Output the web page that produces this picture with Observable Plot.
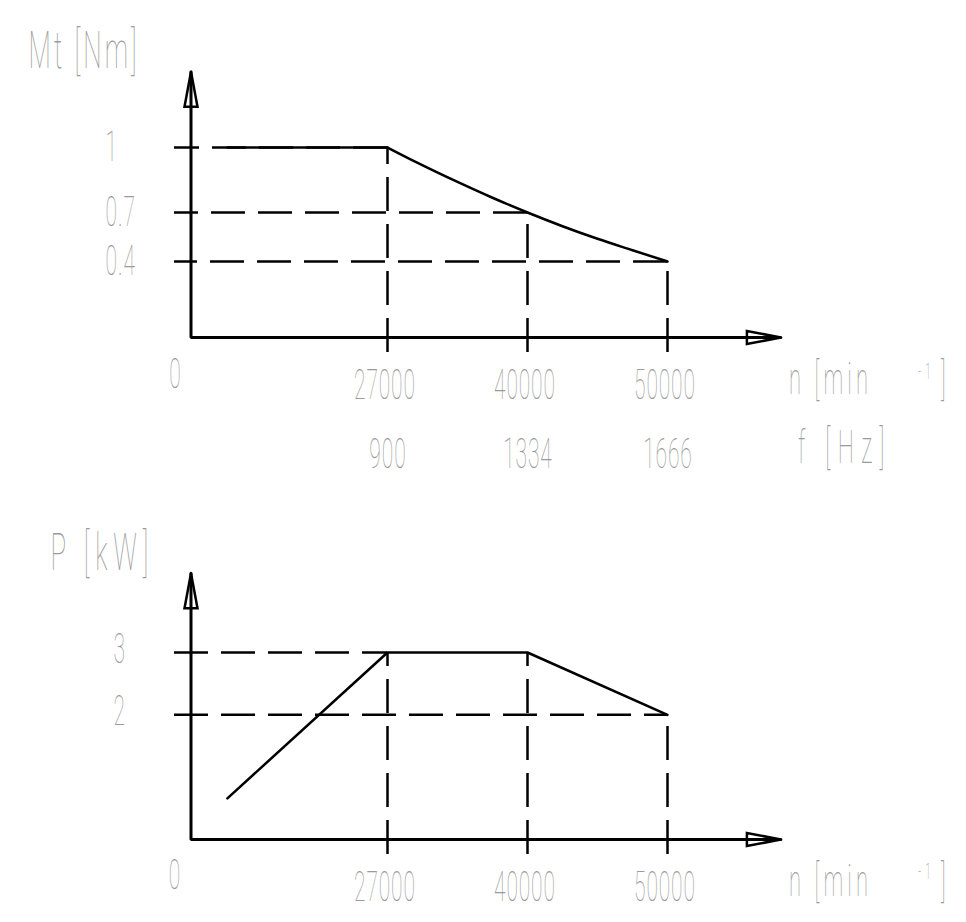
<!DOCTYPE html>
<html>
<head>
<meta charset="utf-8">
<script src="https://cdn.jsdelivr.net/npm/d3@7"></script>
<script src="https://cdn.jsdelivr.net/npm/@observablehq/plot@0.6"></script>
<style>
  html, body { margin: 0; padding: 0; background: #fff; }
  #chart svg { display: block; }
</style>
</head>
<body>
<div id="chart"></div>
<script>
// ---------------- data ----------------
const speedTicks = [27000, 40000, 50000];      // n [min^-1]
const freqTicks = [900, 1334, 1666];           // f [Hz]
const torqueTicks = [1, 0.7, 0.4];             // Mt [Nm]
const powerTicks = [3, 2];                     // P [kW]

// torque curve
const torqueFlatN = [5000, 27000];
const torqueFlatM = [1, 1];
const torqueCurveN = [27000, 29800, 33500, 36750, 40000, 42500, 45000, 47500, 50000];
const torqueCurveM = [1, 0.929, 0.841, 0.768, 0.7, 0.616, 0.539, 0.469, 0.4];

// power curve
const powerN = [5000, 27000, 40000, 50000];
const powerP = [0.66, 3, 3, 2];

// ---------------- layout / style ----------------
const W = 966, topH = 480, botH = 442;
const xDomain = [0, 27000, 40000, 50000];
const xRange = [190.5, 387, 527, 667];
const xAxisEnd = 58100, xTickExt = -2267;
const ink = "#000", txt = "#9a9a9a";
const dash = "34,13";
const font = {fontFamily: "Roboto, Lato, 'DejaVu Sans', sans-serif", fontWeight: 100, fill: txt};
const condenseX = 0.5;
// per-character advance (em) imitating the CAD stroke font
const advance = c => /[0-9]/.test(c) ? 0.29 : c === "." ? 0.12 : c === " " ? 0.40 : /[\[\]]/.test(c) ? 0.20
  : c === "i" ? 0.12 : c === "t" ? 0.20 : c === "-" ? 0.30 : 0.36;

const upArrow = {draw(c) { c.moveTo(0, 0); c.lineTo(-6.5, 35); c.lineTo(6.5, 35); c.closePath(); }};
const rightArrow = {draw(c) { c.moveTo(0, 0); c.lineTo(-34, -6.5); c.lineTo(-34, 6.5); c.closePath(); }};

const allTorqueN = torqueFlatN.concat(torqueCurveN.slice(1));
const allTorqueM = torqueFlatM.concat(torqueCurveM.slice(1));
const torqueAt = n => allTorqueM[allTorqueN.indexOf(n)];
const powerAt = n => powerP[powerN.indexOf(n)];

function axesMarks(yTop) {
  return [
    Plot.line([[0, yTop], [0, 0], [xAxisEnd, 0]], {x: d => d[0], y: d => d[1], stroke: ink, strokeWidth: 3, strokeLinejoin: "miter"}),
    Plot.dot([[0, yTop]], {x: d => d[0], y: d => d[1], symbol: upArrow, r: 5, fill: "none", stroke: ink, strokeWidth: 2.5}),
    Plot.dot([[xAxisEnd, 0]], {x: d => d[0], y: d => d[1], symbol: rightArrow, r: 5, fill: "none", stroke: ink, strokeWidth: 2.5})
  ];
}

function condense(svg) {
  svg.querySelectorAll("text").forEach(t => {
    const g = t.closest("[font-size]");
    const fs = g ? parseFloat(g.getAttribute("font-size")) : 10;
    const s = t.textContent;
    if (s.length > 1) {
      let w = 0;
      for (const c of s) w += advance(c) * fs;
      t.setAttribute("textLength", (w / condenseX).toFixed(1));
      t.setAttribute("lengthAdjust", "spacing");
    }
    const tr = t.getAttribute("transform");
    t.setAttribute("transform", (tr ? tr + " " : "") + `scale(${condenseX},1)`);
  });
  return svg;
}

// ---------------- top chart: torque ----------------
const topYExt = -0.079;
const torquePlot = Plot.plot({
  width: W, height: topH, margin: 0,
  x: {type: "linear", domain: xDomain, range: xRange, axis: null},
  y: {type: "linear", domain: [0, 0.4, 0.7, 1], range: [337, 261, 212, 147], axis: null},
  marks: [
    Plot.ruleY(torqueTicks, {y: d => d, x1: (d, i) => speedTicks[i], x2: xTickExt, stroke: ink, strokeWidth: 2.5, strokeDasharray: dash}),
    Plot.ruleX(speedTicks, {x: d => d, y1: topYExt, y2: d => torqueAt(d), stroke: ink, strokeWidth: 2.5, strokeDasharray: dash}),
    ...axesMarks(1.35),
    Plot.line(torqueFlatN.map((n, i) => ({n, m: torqueFlatM[i]})), {x: "n", y: "m", stroke: ink, strokeWidth: 2.5}),
    Plot.line(torqueCurveN.map((n, i) => ({n, m: torqueCurveM[i]})), {x: "n", y: "m", stroke: ink, strokeWidth: 2.5, curve: "monotone-x"}),
    Plot.text(["Mt [Nm]"], {text: d => d, frameAnchor: "top-left", dx: 28, dy: 67, textAnchor: "start", lineAnchor: "bottom", fontSize: 52, ...font}),
    Plot.text(torqueTicks, {y: d => d, text: d => String(d), frameAnchor: "left", dx: 105, textAnchor: "start", lineAnchor: "middle", fontSize: 42, ...font}),
    Plot.text([0], {x: d => d, y: 0, text: d => String(d), dx: -16, dy: 50, textAnchor: "middle", lineAnchor: "bottom", fontSize: 42, ...font}),
    Plot.text(speedTicks, {x: d => d, y: 0, text: d => String(d), dx: -3, dy: 61, textAnchor: "middle", lineAnchor: "bottom", fontSize: 42, ...font}),
    Plot.text(speedTicks, {x: d => d, y: 0, text: (d, i) => String(freqTicks[i]), dy: 130, textAnchor: "middle", lineAnchor: "bottom", fontSize: 42, ...font}),
    Plot.text(["n [min"], {x: xAxisEnd, y: 0, text: d => d, dx: 8, dy: 56, textAnchor: "start", lineAnchor: "bottom", fontSize: 44, ...font}),
    Plot.text(["-1"], {x: xAxisEnd, y: 0, text: d => d, dx: 137, dy: 41, textAnchor: "start", lineAnchor: "bottom", fontSize: 22, ...font}),
    Plot.text(["]"], {x: xAxisEnd, y: 0, text: d => d, dx: 160, dy: 56, textAnchor: "start", lineAnchor: "bottom", fontSize: 44, ...font}),
    Plot.text(["f [Hz]"], {x: xAxisEnd, y: 0, text: d => d, dx: 17, dy: 125, textAnchor: "start", lineAnchor: "bottom", fontSize: 46, ...font})
  ]
});

// ---------------- bottom chart: power ----------------
const botYExt = -0.24;
const powerPlot = Plot.plot({
  width: W, height: botH, margin: 0,
  x: {type: "linear", domain: xDomain, range: xRange, axis: null},
  y: {type: "linear", domain: [0, 3], range: [359, 172], axis: null},
  marks: [
    Plot.ruleY(powerTicks, {y: d => d, x1: xTickExt, x2: d => powerN[powerP.indexOf(d)], stroke: ink, strokeWidth: 2.5, strokeDasharray: dash}),
    Plot.ruleX(speedTicks, {x: d => d, y1: botYExt, y2: d => powerAt(d), stroke: ink, strokeWidth: 2.5, strokeDasharray: dash}),
    ...axesMarks(4.27),
    Plot.line(powerN.map((n, i) => ({n, p: powerP[i]})), {x: "n", y: "p", stroke: ink, strokeWidth: 2.5}),
    Plot.text(["P [kW]"], {text: d => d, frameAnchor: "top-left", dx: 50, dy: 89, textAnchor: "start", lineAnchor: "bottom", fontSize: 52, ...font}),
    Plot.text(powerTicks, {y: d => d, text: d => String(d), frameAnchor: "left", dx: 113, dy: -3, textAnchor: "start", lineAnchor: "middle", fontSize: 42, ...font}),
    Plot.text([0], {x: d => d, y: 0, text: d => String(d), dx: -16.5, dy: 49, textAnchor: "middle", lineAnchor: "bottom", fontSize: 42, ...font}),
    Plot.text(speedTicks, {x: d => d, y: 0, text: d => String(d), dx: -3, dy: 61, textAnchor: "middle", lineAnchor: "bottom", fontSize: 42, ...font}),
    Plot.text(["n [min"], {x: xAxisEnd, y: 0, text: d => d, dx: 8, dy: 56, textAnchor: "start", lineAnchor: "bottom", fontSize: 44, ...font}),
    Plot.text(["-1"], {x: xAxisEnd, y: 0, text: d => d, dx: 137, dy: 39, textAnchor: "start", lineAnchor: "bottom", fontSize: 22, ...font}),
    Plot.text(["]"], {x: xAxisEnd, y: 0, text: d => d, dx: 160, dy: 56, textAnchor: "start", lineAnchor: "bottom", fontSize: 44, ...font})
  ]
});

document.getElementById("chart").append(condense(torquePlot), condense(powerPlot));
</script>
</body>
</html>
